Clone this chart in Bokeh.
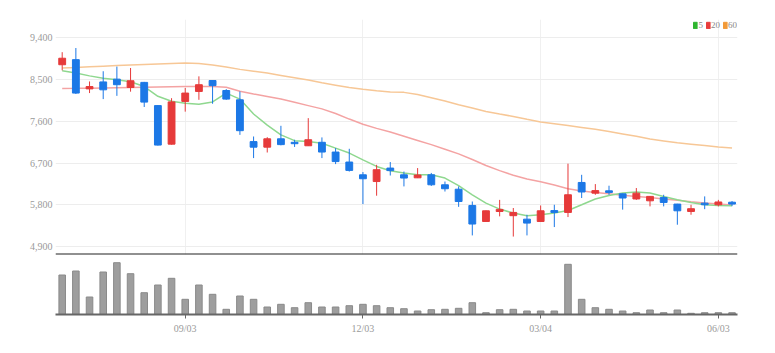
from bokeh.plotting import figure
from bokeh.layouts import column
from bokeh.models import (Range1d, FixedTicker, Span, Legend, LegendItem,
                          ColumnDataSource, NumeralTickFormatter)
from bokeh.embed import file_html
from bokeh.resources import INLINE

# ---------------- data ----------------
opens = [8820, 8930, 8300, 8450, 8510, 8330, 8440, 7940, 7110, 8030,
         8245, 8480, 8265, 8065, 7165, 7045, 7225, 7150, 7075, 7150,
         6940, 6725, 6450, 6305, 6595, 6450, 6385, 6450, 6235, 6140,
         5790, 5445, 5660, 5570, 5495, 5445, 5680, 5640, 6285, 6055,
         6105, 6040, 5930, 5890, 5960, 5820, 5660, 5840, 5805, 5860]
closes = [8960, 8210, 8350, 8280, 8390, 8475, 8015, 7090, 8020, 8210,
          8390, 8370, 8080, 7400, 7045, 7225, 7100, 7120, 7205, 6940,
          6735, 6545, 6365, 6560, 6540, 6380, 6445, 6235, 6150, 5875,
          5390, 5675, 5705, 5640, 5410, 5675, 5640, 6020, 6080, 6110,
          6070, 5950, 6055, 5985, 5855, 5675, 5720, 5805, 5865, 5820]
highs = [9090, 9180, 8460, 8680, 8780, 8750, 8450, 7950, 8100, 8320,
         8570, 8485, 8295, 8245, 7275, 7260, 7505, 7205, 7670, 7255,
         7025, 7010, 6510, 6665, 6725, 6520, 6595, 6490, 6305, 6200,
         5875, 5680, 5910, 5735, 5590, 5790, 5805, 6690, 6450, 6250,
         6215, 6045, 6165, 5990, 6020, 5825, 5805, 5985, 5910, 5885]
lows = [8700, 8190, 8210, 8080, 8150, 8240, 7910, 7080, 7100, 7810,
        8065, 7980, 8065, 7310, 6810, 6930, 7085, 7050, 7070, 6810,
        6680, 6520, 5820, 6000, 6435, 6200, 6380, 6210, 6090, 5760,
        5145, 5440, 5555, 5120, 5145, 5440, 5325, 5540, 5950, 6020,
        6020, 5700, 5910, 5770, 5770, 5375, 5590, 5710, 5770, 5775]
ma5 = [8690, 8640, 8580, 8530, 8495, 8455, 8350, 8140, 8035, 7990,
       7970, 8020, 8210, 8080, 7760, 7520, 7310, 7185, 7165, 7130,
       7025, 6918, 6773, 6630, 6537, 6487, 6450, 6450, 6379, 6215,
       6020, 5841, 5712, 5626, 5568, 5589, 5626, 5682, 5805, 5930,
       6005, 6056, 6078, 6056, 5983, 5912, 5855, 5805, 5790, 5783]
ma20 = [8310, 8312, 8315, 8320, 8325, 8330, 8335, 8340, 8345, 8350,
        8350, 8350, 8335, 8250, 8190, 8135, 8080, 8010, 7940, 7870,
        7770, 7650, 7540, 7450, 7370, 7280, 7190, 7100, 7000, 6900,
        6780, 6650, 6540, 6440, 6360, 6300, 6230, 6150, 6100, 6070,
        6040, 6010, 5985, 5960, 5930, 5900, 5870, 5845, 5820, 5800]
ma60 = [8750, 8760, 8775, 8790, 8805, 8815, 8825, 8835, 8845, 8855,
        8845, 8815, 8770, 8720, 8680, 8640, 8590, 8540, 8490, 8430,
        8380, 8330, 8290, 8260, 8235, 8225, 8180, 8110, 8040, 7960,
        7890, 7815, 7760, 7706, 7645, 7585, 7550, 7510, 7470, 7430,
        7380, 7330, 7280, 7220, 7180, 7140, 7110, 7080, 7050, 7025]
volumes = [790000, 870000, 350000, 850000, 1036000, 816000, 436000, 590000, 724000, 304000,
           590000, 404000, 104000, 370000, 304000, 150000, 204000, 136000, 236000, 150000,
           150000, 176000, 204000, 176000, 136000, 116000, 70000, 96000, 104000, 124000,
           236000, 36000, 96000, 104000, 70000, 70000, 70000, 1004000, 304000, 136000,
           104000, 70000, 36000, 90000, 36000, 90000, 24000, 36000, 36000, 36000]
tick_idx = [9, 22, 35, 48]
tick_labels = ["09/03", "12/03", "03/04", "06/03"]
y_ticks = [4900, 5800, 6700, 7600, 8500, 9400]
legend_labels = ["5", "20", "60"]

# ---------------- style ----------------
FONT = "Liberation Sans Narrow"
RED = "#e63a3a"
BLUE = "#1c78e6"
MA_COLORS = ["#8fd88f", "#f4a3a3", "#f7c796"]
LEG_COLORS = ["#2fb52f", "#e83c3c", "#f29a38"]

idx = list(range(len(opens)))
x_range = Range1d(-0.49, len(opens) - 0.6)

p = figure(width=775, height=256, x_range=x_range, y_range=Range1d(4734, 9794),
           output_backend="svg", toolbar_location=None,
           min_border_left=55, min_border_right=38, min_border_top=19, min_border_bottom=2)
p.outline_line_color = None
p.xaxis.visible = False
p.yaxis.ticker = FixedTicker(ticks=y_ticks)
p.yaxis.formatter = NumeralTickFormatter(format="0,0")
p.yaxis.axis_line_color = None
p.yaxis.major_tick_line_color = None
p.yaxis.major_tick_out = 0
p.yaxis.major_tick_in = 0
p.yaxis.minor_tick_line_color = None
p.yaxis.major_label_text_font = FONT
p.yaxis.major_label_text_font_size = "10px"
p.yaxis.major_label_text_color = "#9a9a9a"
p.yaxis.major_label_standoff = 3
p.ygrid.ticker = FixedTicker(ticks=y_ticks)
p.ygrid.grid_line_color = "#ededed"
p.xgrid.ticker = FixedTicker(ticks=tick_idx)
p.xgrid.grid_line_color = "#f0f0f0"

for vals, col in zip([ma60, ma20, ma5], [MA_COLORS[2], MA_COLORS[1], MA_COLORS[0]]):
    p.line(idx, vals, line_color=col, line_width=1.5)

colors = [RED if c >= o else BLUE for o, c in zip(opens, closes)]
src = ColumnDataSource(dict(x=idx, high=highs, low=lows,
                            top=[max(o, c) for o, c in zip(opens, closes)],
                            bottom=[min(o, c) for o, c in zip(opens, closes)],
                            color=colors))
p.segment(x0="x", y0="high", x1="x", y1="low", line_color="color", line_width=1, source=src)
p.vbar(x="x", top="top", bottom="bottom", width=0.5, fill_color="color",
       line_color="color", line_width=1, source=src)

# legend swatches: hidden renderers that only supply the coloured squares
leg_rs = []
for c in LEG_COLORS:
    r = p.vbar(x=idx[:1], top=closes[:1], bottom=opens[:1], width=0.5,
               fill_color=c, line_color=c)
    r.visible = False
    leg_rs.append(r)
legend = Legend(items=[LegendItem(label=l, renderers=[r]) for l, r in zip(legend_labels, leg_rs)],
                location="top_right", orientation="horizontal", margin=0, padding=0,
                spacing=2, glyph_width=5, glyph_height=8, label_standoff=1, label_height=12,
                label_width=0, label_text_font=FONT, label_text_font_size="9px",
                label_text_color="#888888", background_fill_alpha=0, border_line_alpha=0,
                inactive_fill_alpha=0, click_policy="none")
p.add_layout(legend)

p.add_layout(Span(location=4734, dimension="width", line_color="#222222", line_width=2))

q = figure(width=775, height=95, x_range=x_range, y_range=Range1d(0, 1120000),
           output_backend="svg", toolbar_location=None,
           min_border_left=55, min_border_right=38, min_border_top=2, min_border_bottom=37)
q.outline_line_color = None
q.yaxis.visible = False
q.xgrid.visible = False
q.ygrid.visible = False
q.vbar(x=idx, top=volumes, width=0.48, fill_color="#9e9e9e", line_color="#8a8a8a")
q.xaxis.ticker = FixedTicker(ticks=tick_idx)
q.xaxis.major_label_overrides = {t: l for t, l in zip(tick_idx, tick_labels)}
q.xaxis.axis_line_color = "#666666"
q.xaxis.axis_line_width = 2
q.xaxis.major_tick_out = 4
q.xaxis.major_tick_in = 0
q.xaxis.major_tick_line_color = "#666666"
q.xaxis.minor_tick_line_color = None
q.xaxis.major_label_text_font = FONT
q.xaxis.major_label_text_font_size = "10px"
q.xaxis.major_label_text_color = "#9a9a9a"
q.xaxis.major_label_standoff = 4

layout = column(p, q, spacing=0)
open("out.html", "w").write(file_html(layout, INLINE))
